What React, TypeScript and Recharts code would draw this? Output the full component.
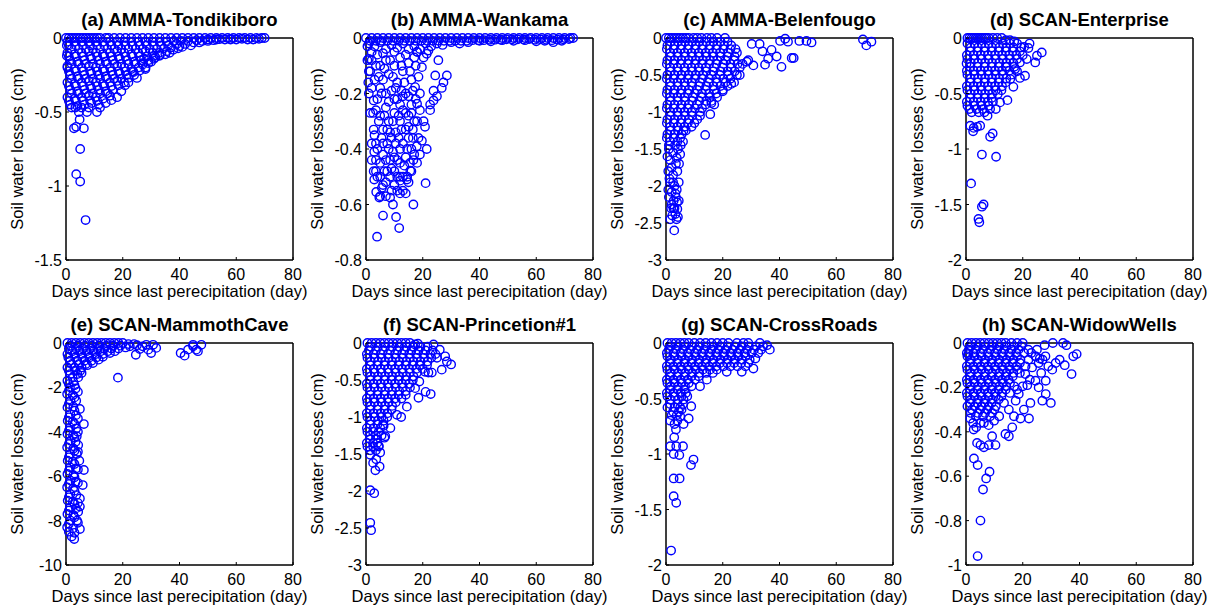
import React from "react";
import { ScatterChart, Scatter, XAxis, YAxis, ReferenceArea } from "recharts";

// days since last precipitation (x) vs soil water loss in cm (y)
type Pt = [number, number];

const dayTicks = [0, 20, 40, 60, 80];

const tondikiboro: Pt[] = [
  [0, 0], [1, 0], [2, 0], [3, 0], [4, 0], [5, 0], [6, 0], [7, 0], [8, 0], [9, 0], [10, 0], [11, 0], [12, 0], [14, 0], [15, 0], [17, 0], [19, 0], [21, 0], [23, 0], [25, 0], [27, 0], [29, 0], [31, 0], [33, 0], [35, 0], [37, 0], [39, 0], [41, 0], [43, 0], [45, 0], [47, 0], [49, 0], [51, 0], [53, 0], [55, 0], [57, 0], [59, 0], [61, 0], [63, 0], [64, -0.01], [65, 0], [66, -0.01], [67, 0], [68, -0.005], [69, 0], [70, 0],
  [0.5, -0.025], [3, -0.025], [5.5, -0.025], [8, -0.025], [10.5, -0.025], [13, -0.025], [15.5, -0.025], [18, -0.025], [20.5, -0.025], [23, -0.025], [25.5, -0.025], [28, -0.025], [30.5, -0.025], [33, -0.025], [35.5, -0.025], [38, -0.02], [40.5, -0.02], [43, -0.02], [46, -0.015], [50, -0.01], [54, -0.008], [58, -0.006], [62, -0.005],
  [1, -0.05], [3.5, -0.05], [6, -0.05], [8.5, -0.05], [11, -0.05], [13.5, -0.05], [16, -0.05], [18.5, -0.05], [21, -0.05], [23.5, -0.05], [26, -0.05], [28.5, -0.05], [31, -0.05], [33.5, -0.05], [36, -0.05], [39, -0.04], [42, -0.04], [45, -0.03], [48, -0.02], [52, -0.015], [56, -0.01], [60, -0.01],
  [2, -0.075], [4.5, -0.075], [7, -0.075], [9.5, -0.075], [12, -0.075], [14.5, -0.075], [17, -0.075], [19.5, -0.075], [22, -0.075], [24.5, -0.075], [27, -0.075], [29.5, -0.075], [32, -0.075], [34.5, -0.07], [37, -0.065], [40, -0.055],
  [0.5, -0.1], [3, -0.11], [5.5, -0.1], [8, -0.09], [10.5, -0.1], [13, -0.11], [15.5, -0.1], [18, -0.09], [20.5, -0.1], [23, -0.11], [25.5, -0.1], [28, -0.09], [30.5, -0.1], [33, -0.1], [35.5, -0.09],
  [1, -0.125], [3.5, -0.125], [6, -0.125], [8.5, -0.125], [11, -0.125], [13.5, -0.125], [16, -0.125], [18.5, -0.125], [21, -0.125], [23.5, -0.125], [26, -0.125], [28.5, -0.125], [31, -0.12], [33, -0.115],
  [1.5, -0.15], [4, -0.16], [6.5, -0.15], [9, -0.14], [11.5, -0.15], [14, -0.16], [16.5, -0.15], [19, -0.14], [21.5, -0.15], [24, -0.16], [26.5, -0.15], [29, -0.15], [31, -0.14],
  [2, -0.175], [4.5, -0.175], [7, -0.175], [9.5, -0.175], [12, -0.175], [14.5, -0.175], [17, -0.175], [19.5, -0.175], [22, -0.175], [24.5, -0.175], [27, -0.17], [29, -0.17],
  [0.5, -0.2], [3, -0.21], [5.5, -0.2], [8, -0.19], [10.5, -0.2], [13, -0.21], [15.5, -0.2], [18, -0.19], [20.5, -0.2], [23, -0.21], [25.5, -0.2], [28, -0.2],
  [1, -0.225], [3.5, -0.225], [6, -0.225], [8.5, -0.225], [11, -0.225], [13.5, -0.225], [16, -0.225], [18.5, -0.225], [21, -0.225], [23.5, -0.225], [26, -0.22],
  [1.5, -0.25], [4, -0.26], [6.5, -0.25], [9, -0.24], [11.5, -0.25], [14, -0.26], [16.5, -0.25], [19, -0.24], [21.5, -0.25], [24, -0.25],
  [2, -0.275], [4.5, -0.275], [7, -0.275], [9.5, -0.275], [12, -0.275], [14.5, -0.275], [17, -0.275], [19.5, -0.275], [22, -0.27],
  [0.5, -0.3], [3, -0.31], [5.5, -0.3], [8, -0.29], [10.5, -0.3], [13, -0.31], [15.5, -0.3], [18, -0.29], [20.5, -0.3],
  [1, -0.325], [3.5, -0.325], [6, -0.325], [8.5, -0.325], [11, -0.325], [13.5, -0.325], [16, -0.325], [18.5, -0.32],
  [1.5, -0.35], [4, -0.36], [6.5, -0.35], [9, -0.34], [11.5, -0.35], [14, -0.36], [16.5, -0.35],
  [2, -0.375], [4.5, -0.375], [7, -0.375], [9.5, -0.375], [12, -0.375], [14.5, -0.375],
  [0.5, -0.4], [3, -0.41], [5.5, -0.4], [8, -0.39], [10.5, -0.4], [13, -0.41], [15.5, -0.39],
  [1, -0.425], [3.5, -0.425], [6, -0.425], [8.5, -0.425], [11, -0.425],
  [1.5, -0.45], [4, -0.46], [6.5, -0.45], [9, -0.44], [11.5, -0.45],
  [2, -0.47], [5.5, -0.47], [8, -0.47],
  [0.3, -0.05], [0.3, -0.12], [0.5, -0.19], [3.3, -0.47], [4.5, -0.5], [4.8, -0.55], [2.8, -0.61], [3.6, -0.6], [6.3, -0.61], [5, -0.75], [3.6, -0.92], [5, -0.97], [6.9, -1.23],
  [7.4, -0.5], [10.9, -0.5], [12, -0.47], [14, -0.44], [16, -0.42], [18, -0.4], [19.5, -0.36], [20.8, -0.32], [22, -0.3], [23.8, -0.23], [25, -0.27], [27, -0.18], [27.5, -0.14], [28, -0.21], [30, -0.16], [31.5, -0.13], [33, -0.12], [35, -0.11], [36.5, -0.1], [37.8, -0.08], [39.5, -0.07], [41, -0.06], [44, -0.05], [47, -0.03], [50, -0.02], [53, -0.01], [58, -0.01],
];

const wankama: Pt[] = [
  [0, 0], [2, 0], [4, 0], [6, 0], [8, 0], [10, 0], [12, 0], [14, 0], [16, 0], [18, 0], [20, 0], [22, 0], [24, 0], [26, 0], [28, 0], [30, 0], [32, 0], [34, 0], [36, 0], [38, 0], [40, 0], [42, 0], [44, 0], [46, 0], [48, 0], [50, 0], [52, 0], [54, 0], [56, 0], [58, 0], [60, 0], [62, 0], [64, 0], [66, 0], [68, 0], [70, 0], [72, 0], [73, 0],
  [1.5, -0.01], [3.5, -0.01], [5.5, -0.01], [7.5, -0.01], [9.5, -0.01], [11.5, -0.01], [13.5, -0.01], [15.5, -0.01], [17.5, -0.01], [19.5, -0.01], [21.5, -0.01], [23.5, -0.01], [25.5, -0.01], [27.5, -0.01], [29.5, -0.01], [31.5, -0.01], [33.5, -0.01], [35.5, -0.01], [37.5, -0.008], [39.5, -0.008], [41.5, -0.008], [43.5, -0.006], [45.5, -0.006], [47.5, -0.006], [49.5, -0.005], [51.5, -0.005], [53.5, -0.005], [55.5, -0.005], [57.5, -0.004], [59.5, -0.006], [61.5, -0.005], [63.5, -0.006], [65.5, -0.008], [67.5, -0.006], [69.5, -0.005], [71.5, -0.004],
  [1, -0.02], [3, -0.03], [5, -0.015], [7, -0.04], [9, -0.025], [11, -0.035], [13, -0.02], [15, -0.04], [17, -0.03], [19, -0.04], [21, -0.02], [23, -0.03], [25, -0.02], [27, -0.025], [30, -0.015], [33, -0.02], [36, -0.015], [40, -0.01], [44, -0.012], [48, -0.008], [52, -0.01], [56, -0.008], [60, -0.012], [63, -0.01], [66, -0.015], [69, -0.01],
  [2, -0.05], [6, -0.055], [10, -0.05], [14, -0.06], [18, -0.05], [22, -0.045],
  [0.5, -0.03], [0.5, -0.08], [1, -0.12], [0.8, -0.16], [1, -0.2], [1.5, -0.27], [2, -0.38], [2, -0.44],
  [1, -0.075], [1.5, -0.12], [2, -0.18], [2.7, -0.225], [2.5, -0.27], [2.7, -0.33], [2.9, -0.41], [2.7, -0.48], [2.9, -0.51], [3.6, -0.555], [4.7, -0.575], [5.6, -0.54], [6, -0.64], [3.9, -0.716],
  [8.5, -0.575], [10.6, -0.645], [11.7, -0.685], [16.7, -0.6], [21, -0.523], [12, -0.514], [14.4, -0.51], [15.6, -0.478], [16.7, -0.44], [17.9, -0.39], [19, -0.42], [19.7, -0.37], [21.4, -0.4], [20.8, -0.32], [20.3, -0.3], [19, -0.26], [18, -0.237], [19, -0.2], [17.3, -0.177], [18.5, -0.14], [19.7, -0.105], [20.3, -0.07], [21.4, -0.057],
  [25.5, -0.08], [24.4, -0.135], [28.5, -0.135], [27.3, -0.16], [26.7, -0.18], [23.8, -0.19], [25, -0.21], [23.8, -0.225], [22.6, -0.24], [22.6, -0.26],
  [4, -0.06], [5, -0.1], [6, -0.15], [7, -0.08], [8, -0.13], [9, -0.19], [10, -0.1], [11, -0.16], [12, -0.07], [13, -0.12], [14, -0.2], [15, -0.09], [16, -0.15], [17, -0.07],
  [4, -0.22], [5, -0.28], [6, -0.33], [7, -0.25], [8, -0.3], [9, -0.36], [10, -0.27], [11, -0.22], [12, -0.3], [13, -0.26], [14, -0.33], [15, -0.28], [16, -0.24], [17, -0.3],
  [4, -0.4], [5, -0.45], [6, -0.38], [7, -0.44], [8, -0.4], [9, -0.47], [10, -0.43], [11, -0.5], [12, -0.45], [13, -0.38], [14, -0.43], [15, -0.36], [16, -0.4],
  [4, -0.5], [7, -0.52], [9, -0.55], [13, -0.55], [10, -0.53],
  [3, -0.35], [3.5, -0.44], [5.5, -0.2], [6.5, -0.48], [8.5, -0.34], [11.5, -0.36], [12.5, -0.19], [14.5, -0.5], [15.5, -0.45],
  [2, -0.08], [3.5, -0.1], [4.5, -0.14], [6.5, -0.11], [8.5, -0.08], [9.5, -0.14], [10.5, -0.18], [12.5, -0.1], [13.5, -0.16], [15.5, -0.12], [16.5, -0.19], [17.5, -0.1], [18, -0.05],
  [3, -0.15], [5, -0.18], [7, -0.2], [8, -0.23], [10, -0.22], [12, -0.24], [13, -0.21], [15, -0.21], [16, -0.27], [17.5, -0.22],
  [3.5, -0.26], [4.5, -0.3], [6.5, -0.28], [7.5, -0.33], [9.5, -0.3], [10.5, -0.34], [11.5, -0.28], [12.5, -0.33], [14, -0.27], [15, -0.32], [16.5, -0.33], [18, -0.3],
  [3.5, -0.38], [5.5, -0.36], [6, -0.42], [7.5, -0.38], [8.5, -0.44], [9.5, -0.41], [10.5, -0.38], [11, -0.44], [12, -0.4], [13.5, -0.46], [14.5, -0.4], [16.5, -0.36], [17, -0.42], [18.5, -0.36],
  [3.5, -0.48], [5, -0.5], [6, -0.53], [7.5, -0.48], [8.5, -0.5], [10, -0.48], [11, -0.55], [12, -0.5], [13, -0.5], [15, -0.52], [16, -0.48], [18, -0.45],
  [5, -0.57], [7, -0.57], [9.5, -0.6], [12, -0.56], [14, -0.56],
];

const belenfougo: Pt[] = [
  [0, 0], [1, 0], [2, 0], [3, 0], [4, 0], [5, 0], [6, 0], [7, 0], [8, 0], [9.7, 0], [11, 0], [12.5, 0], [14.4, 0], [16, 0], [18, 0], [20.8, 0],
  [1.7, -0.05], [4.2, -0.05], [6.7, -0.05], [9.2, -0.05], [11.7, -0.05], [14.2, -0.05], [16.7, -0.05], [19.2, -0.05], [21.7, -0.05],
  [0.5, -0.1], [3, -0.1], [5.5, -0.1], [8, -0.1], [10.5, -0.1], [13, -0.1], [15.5, -0.1], [18, -0.1], [20.5, -0.1], [23, -0.1],
  [0.3, -0.15], [2.7, -0.15], [5.2, -0.15], [7.7, -0.15], [10.2, -0.15], [12.7, -0.15], [15.2, -0.15], [17.7, -0.15], [20.2, -0.15], [22.7, -0.15], [24.5, -0.15],
  [1.5, -0.2], [4, -0.2], [6.5, -0.2], [9, -0.2], [11.5, -0.2], [14, -0.2], [16.5, -0.2], [19, -0.2], [22, -0.2], [25, -0.2],
  [1.7, -0.25], [4.2, -0.25], [6.7, -0.25], [9.2, -0.25], [11.7, -0.25], [14.2, -0.25], [16.7, -0.25], [19.2, -0.25], [21.7, -0.25], [24.2, -0.25],
  [0.5, -0.3], [3, -0.3], [5.5, -0.3], [8, -0.3], [10.5, -0.3], [13, -0.3], [15.5, -0.3], [18, -0.3], [21, -0.3], [24, -0.3],
  [0.3, -0.35], [2.7, -0.35], [5.2, -0.35], [7.7, -0.35], [10.2, -0.35], [12.7, -0.35], [15.2, -0.35], [17.7, -0.35], [20.2, -0.35], [22.7, -0.35], [25.2, -0.35],
  [1.5, -0.4], [4, -0.4], [6.5, -0.4], [9, -0.4], [11.5, -0.4], [14, -0.4], [17, -0.4], [20, -0.4], [23, -0.4], [26, -0.4],
  [1.7, -0.45], [4.2, -0.45], [6.7, -0.45], [9.2, -0.45], [11.7, -0.45], [14.2, -0.45], [16.7, -0.45], [19.2, -0.45], [21.7, -0.45], [24.2, -0.45],
  [0.5, -0.5], [3, -0.5], [5.5, -0.5], [8, -0.5], [10.5, -0.5], [13, -0.5], [16, -0.5], [19, -0.5], [22, -0.5], [25, -0.5],
  [0.3, -0.55], [2.7, -0.55], [5.2, -0.55], [7.7, -0.55], [10.2, -0.55], [12.7, -0.55], [15.2, -0.55], [17.7, -0.55], [20.2, -0.55], [22.7, -0.55],
  [1.5, -0.6], [4, -0.6], [6.5, -0.6], [9, -0.6], [12, -0.6], [15, -0.6], [18, -0.6], [21, -0.6], [24, -0.6],
  [1.7, -0.65], [4.2, -0.65], [6.7, -0.65], [9.2, -0.65], [11.7, -0.65], [14.2, -0.65], [16.7, -0.65], [19.2, -0.65], [21.7, -0.65],
  [0.5, -0.7], [3, -0.7], [5.5, -0.7], [8, -0.7], [11, -0.7], [14, -0.7], [17, -0.7], [20, -0.7],
  [0.3, -0.75], [2.7, -0.75], [5.2, -0.75], [7.7, -0.75], [10.2, -0.75], [12.7, -0.75], [15.2, -0.75], [17.7, -0.75],
  [1.5, -0.8], [4, -0.8], [6.5, -0.8], [9.5, -0.8], [12.5, -0.8], [15.5, -0.8], [18, -0.8],
  [1.7, -0.85], [4.2, -0.85], [6.7, -0.85], [9.2, -0.85], [11.7, -0.85], [14.2, -0.85], [16, -0.85],
  [0.5, -0.9], [3, -0.9], [5.5, -0.9], [8, -0.9], [11, -0.9], [14, -0.9], [17, -0.9],
  [0.3, -0.95], [2.7, -0.95], [5.2, -0.95], [7.7, -0.95], [10.2, -0.95], [12.7, -0.95],
  [1.5, -1.0], [4, -1.0], [6.5, -1.0], [9, -1.0], [12, -1.0],
  [1.7, -1.05], [4.2, -1.05], [6.7, -1.05], [9.2, -1.05],
  [0.5, -1.1], [3, -1.1], [5.5, -1.1], [8, -1.1], [11, -1.1],
  [0.3, -1.15], [2.7, -1.15], [5.2, -1.15], [7.7, -1.15],
  [1.5, -1.2], [4, -1.2], [6.5, -1.2], [9, -1.2],
  [1.7, -1.25], [4.2, -1.25], [6.2, -1.25],
  [0.5, -1.3], [3, -1.3], [5.5, -1.3],
  [0.3, -1.35], [2.7, -1.35], [5, -1.35],
  [1.5, -1.4], [4, -1.4], [6, -1.4],
  [1, -1.45], [3.2, -1.45], [5.2, -1.45],
  [1, -1.5], [2.5, -1.55], [4.2, -1.5], [5, -1.57], [1.5, -1.65], [3.5, -1.7], [0.8, -1.8], [2.5, -1.85], [4, -1.8], [1.5, -1.95], [3, -2.0], [4.5, -1.95], [2, -2.08], [3.3, -2.1], [1, -2.15], [2.7, -2.2], [3.9, -2.22], [1.8, -2.3], [3, -2.3], [4, -2.31], [2.2, -2.4], [3.3, -2.38], [4.2, -2.42], [2.9, -2.6],
  [0.5, -1.6], [2, -1.75], [3.8, -1.62], [1.2, -1.9], [2.5, -1.95], [3.8, -2.05], [0.8, -2.05], [2, -2.25], [3.5, -2.15], [2.6, -2.3], [1.5, -2.45], [3.7, -2.45], [4.5, -2.2], [4.6, -1.7],
  [15.6, -1.03], [13.8, -1.31], [12, -1.05], [10, -1.15], [7, -1.25], [16, -0.88], [20, -0.72], [23, -0.62], [26, -0.5], [27, -0.35], [29, -0.3],
  [30.2, -0.08], [33, -0.08], [34, -0.18], [37.2, -0.16], [36, -0.28], [39, -0.25], [34.9, -0.36], [40.7, -0.39], [30.8, -0.37], [28.5, -0.32], [40.2, -0.04], [42, -0.01], [43, -0.05], [44.3, -0.27], [45, -0.27], [47, -0.04], [49.5, -0.04], [51.3, -0.06], [69.4, -0.02], [70.6, -0.1], [72.4, -0.05],
];

const enterprise: Pt[] = [
  [0.5, 0], [1.2, 0], [2, 0], [2.7, 0], [3.5, 0], [4.2, 0], [5, 0], [5.7, 0], [6.5, 0], [7.2, 0], [8, 0], [9.5, 0], [11, 0], [12.6, 0], [14, -0.02], [15.5, -0.02], [17, -0.03],
  [0.5, -0.05], [3, -0.05], [5.5, -0.05], [8, -0.05], [10.5, -0.05], [13, -0.05], [15.5, -0.05], [18, -0.05],
  [1.7, -0.085], [4.2, -0.085], [6.7, -0.085], [9.2, -0.085], [11.7, -0.085], [14.2, -0.085], [16.7, -0.085], [19.5, -0.085], [22, -0.09],
  [1.5, -0.12], [4, -0.12], [6.5, -0.12], [9, -0.12], [11.5, -0.12], [14, -0.12], [16.5, -0.12], [19, -0.12],
  [0.3, -0.155], [2.7, -0.155], [5.2, -0.155], [7.7, -0.155], [10.2, -0.155], [12.7, -0.155], [15.2, -0.155], [17.7, -0.155], [20, -0.155],
  [0.5, -0.19], [3, -0.19], [5.5, -0.19], [8, -0.19], [10.5, -0.19], [13, -0.19], [15.5, -0.19], [18, -0.19],
  [1.7, -0.225], [4.2, -0.225], [6.7, -0.225], [9.2, -0.225], [11.7, -0.225], [14.2, -0.225], [16.7, -0.225],
  [1.5, -0.26], [4, -0.26], [6.5, -0.26], [9, -0.26], [11.5, -0.26], [14, -0.26], [17, -0.26],
  [0.3, -0.295], [2.7, -0.295], [5.2, -0.295], [7.7, -0.295], [10.2, -0.295], [12.7, -0.295], [15.2, -0.295], [18, -0.3],
  [0.5, -0.33], [3, -0.33], [5.5, -0.33], [8, -0.33], [10.5, -0.33], [13, -0.33], [16, -0.33],
  [1.7, -0.365], [4.2, -0.365], [6.7, -0.365], [9.2, -0.365], [11.7, -0.365], [14.2, -0.365],
  [1.5, -0.4], [4, -0.4], [6.5, -0.4], [9, -0.4], [11.5, -0.4], [14, -0.4],
  [0.3, -0.435], [2.7, -0.435], [5.2, -0.435], [7.7, -0.435], [10.2, -0.435], [12.7, -0.435],
  [0.5, -0.47], [3, -0.47], [5.5, -0.47], [8, -0.47], [10.5, -0.47], [12.5, -0.47],
  [1.7, -0.505], [4.2, -0.505], [6.7, -0.505], [9.2, -0.505], [11.2, -0.505],
  [1.5, -0.54], [4, -0.54], [6.5, -0.54], [9, -0.54],
  [0.3, -0.575], [2.7, -0.575], [5.2, -0.575], [7.7, -0.575], [9.5, -0.575],
  [0.5, -0.61], [3, -0.61], [5.5, -0.61], [8, -0.61],
  [1.2, -0.64], [3.7, -0.64], [6, -0.64], [8.5, -0.64],
  [2, -0.67], [4.5, -0.67], [6.5, -0.67],
  [1.8, -1.31], [4.4, -1.63], [4.7, -1.66], [5.6, -1.52], [6.2, -1.5], [5.6, -1.05], [10.6, -1.07], [8.5, -0.89], [9.4, -0.86],
  [1.5, -0.79], [2.7, -0.81], [3.9, -0.8], [5, -0.79], [2.5, -0.84], [7.6, -0.7], [14.6, -0.56], [12, -0.58], [10.5, -0.64],
  [26.7, -0.13], [25, -0.16], [24.4, -0.22], [22.4, -0.05], [20.5, -0.08], [20.8, -0.34], [19, -0.36], [16.7, -0.44], [17.3, -0.28], [19, -0.22], [21.4, -0.19], [15.6, -0.37], [14.4, -0.26], [0.2, -0.23],
];

const mammothCave: Pt[] = [
  [0.5, 0], [2, 0], [3.5, 0], [5, 0], [6.5, 0], [8, 0], [9.5, 0], [11, 0], [12.5, 0], [14, 0], [15.5, 0], [17, 0], [18.5, 0], [20, 0], [22, -0.05], [24, -0.05],
  [1.7, -0.12], [4.2, -0.12], [6.7, -0.12], [9.2, -0.12], [11.7, -0.12], [14.2, -0.12], [16.7, -0.12], [19.2, -0.12], [22.5, -0.15], [25, -0.1],
  [1, -0.25], [3.5, -0.25], [6, -0.25], [8.5, -0.25], [11, -0.25], [13.5, -0.25], [16, -0.25], [18.5, -0.25], [21, -0.2],
  [2.2, -0.37], [4.7, -0.37], [7.2, -0.37], [9.7, -0.37], [12.2, -0.37], [14.7, -0.37], [17.2, -0.37],
  [0.5, -0.5], [3, -0.5], [5.5, -0.5], [8, -0.5], [10.5, -0.5], [13, -0.5], [15.5, -0.45],
  [0.8, -0.65], [3.2, -0.65], [5.7, -0.65], [8.2, -0.65], [10.7, -0.65], [13, -0.62],
  [1.5, -0.8], [4, -0.8], [6.5, -0.8], [9, -0.8], [11.5, -0.75],
  [2, -0.95], [4.5, -0.95], [7, -0.95], [9.5, -0.9],
  [0.5, -1.1], [3, -1.1], [5.5, -1.1], [7.5, -1.0],
  [1, -1.25], [3.2, -1.25], [5, -1.25],
  [1.5, -1.4], [4, -1.4], [5.5, -1.35],
  [2.3, -1.55], [4.3, -1.55],
  [0.5, -1.7], [2.6, -1.75], [1.4, -2.0], [3.4, -2.05], [0.4, -2.3], [2.4, -2.35], [1.6, -2.6], [3.6, -2.6], [0.5, -2.9], [2.6, -2.87], [4.9, -2.97],
  [1.5, -3.2], [3.5, -3.25], [0.6, -3.5], [2.4, -3.55], [1.4, -3.8], [3.6, -3.85], [0.5, -4.1], [2.5, -4.15], [3.8, -4.2], [1.6, -4.4], [4.3, -4.6], [3.4, -4.45],
  [0.4, -4.7], [2.6, -4.75], [1.5, -5.0], [3.8, -5.0], [0.6, -5.3], [2.4, -5.35], [4.7, -5.3], [1.4, -5.6], [3.5, -5.65], [0.5, -5.9], [2.6, -5.95],
  [1.6, -6.2], [3.4, -6.25], [0.4, -6.5], [2.5, -6.55], [5.9, -6.4], [1.5, -6.8], [3.6, -6.85], [0.6, -7.1], [2.4, -7.15], [4.9, -7.0],
  [1.4, -7.4], [3.5, -7.45], [4.9, -7.37], [0.5, -7.7], [2.6, -7.75], [4.3, -7.6], [1.6, -8.0], [3.9, -8.0], [0.4, -8.3], [2.5, -8.35], [4.9, -8.38], [2.9, -8.83], [2, -8.72], [1, -8.5],
  [1, -1.85], [3, -1.9], [4.2, -2.2], [1, -2.15], [3, -2.45], [1, -2.75], [3, -3.05], [4.2, -3.4], [1, -3.35], [3, -3.65], [1, -3.95], [4.2, -4.0], [3, -4.25], [1, -4.55], [3, -4.85], [4.2, -4.9],
  [1, -5.15], [3, -5.45], [4.2, -5.7], [1, -5.75], [3, -6.05], [1, -6.35], [4.2, -6.3], [3, -6.65], [1, -6.95], [3, -7.25], [4.2, -7.2], [1, -7.55], [3, -7.85], [4.2, -8.1], [1, -8.15], [3, -8.55],
  [6.3, -3.65], [6.3, -5.72], [18.3, -1.56],
  [24.6, -0.53], [26, -0.27], [28.3, -0.08], [30.7, -0.08], [31.8, -0.22], [30, -0.45], [27, -0.15], [29, -0.3],
  [40.4, -0.45], [41.8, -0.57], [43, -0.3], [44.8, -0.08], [45.9, -0.3], [46.5, -0.37], [47.7, -0.08], [44.8, -0.15],
];

const princetion: Pt[] = [
  [0.5, 0], [2, 0], [3.5, 0], [5, 0], [6.5, 0], [8, 0], [9.5, 0], [11, 0], [12.5, 0], [14, 0], [15.5, 0], [18.3, -0.01],
  [1.7, -0.05], [4.2, -0.05], [6.7, -0.05], [9.2, -0.05], [11.7, -0.05], [14.2, -0.05], [16.7, -0.05], [19.2, -0.05], [21.7, -0.05],
  [1, -0.1], [3.5, -0.1], [6, -0.1], [8.5, -0.1], [11, -0.1], [13.5, -0.1], [16, -0.1], [18.5, -0.1], [21, -0.1], [23.5, -0.1],
  [0.3, -0.15], [2.7, -0.15], [5.2, -0.15], [7.7, -0.15], [10.2, -0.15], [12.7, -0.15], [15.2, -0.15], [17.7, -0.15], [20.2, -0.15], [22.7, -0.15], [24.5, -0.15],
  [0.5, -0.2], [3, -0.2], [5.5, -0.2], [8, -0.2], [10.5, -0.2], [13, -0.2], [15.5, -0.2], [18, -0.2], [20.5, -0.2], [23, -0.2],
  [1.7, -0.25], [4.2, -0.25], [6.7, -0.25], [9.2, -0.25], [11.7, -0.25], [14.2, -0.25], [16.7, -0.25], [19.2, -0.25], [21.7, -0.25],
  [1.5, -0.3], [4, -0.3], [6.5, -0.3], [9, -0.3], [11.5, -0.3], [14, -0.3], [16.5, -0.3], [19, -0.3], [21.5, -0.3],
  [0.3, -0.35], [2.7, -0.35], [5.2, -0.35], [7.7, -0.35], [10.2, -0.35], [12.7, -0.35], [15.2, -0.35], [17.7, -0.35], [20, -0.35],
  [0.5, -0.4], [3, -0.4], [5.5, -0.4], [8, -0.4], [10.5, -0.4], [13, -0.4], [15.5, -0.4], [18, -0.4],
  [1.7, -0.45], [4.2, -0.45], [6.7, -0.45], [9.2, -0.45], [11.7, -0.45], [14.2, -0.45], [16.7, -0.45],
  [1.5, -0.5], [4, -0.5], [6.5, -0.5], [9, -0.5], [11.5, -0.5], [14, -0.5], [16.5, -0.5],
  [0.3, -0.55], [2.7, -0.55], [5.2, -0.55], [7.7, -0.55], [10.2, -0.55], [12.7, -0.55], [15.2, -0.55],
  [0.5, -0.6], [3, -0.6], [5.5, -0.6], [8, -0.6], [10.5, -0.6], [13, -0.6], [15.5, -0.6],
  [1.7, -0.65], [4.2, -0.65], [6.7, -0.65], [9.2, -0.65], [11.7, -0.65], [14, -0.65],
  [1.5, -0.7], [4, -0.7], [6.5, -0.7], [9, -0.7], [11.5, -0.7], [14, -0.7],
  [0.3, -0.75], [2.7, -0.75], [5.2, -0.75], [7.7, -0.75], [10.2, -0.75], [12.5, -0.75],
  [0.5, -0.8], [3, -0.8], [5.5, -0.8], [8, -0.8], [10.5, -0.8],
  [1.7, -0.85], [4.2, -0.85], [6.7, -0.85], [9.2, -0.85],
  [1.5, -0.9], [4, -0.9], [6.5, -0.9], [9, -0.9],
  [0.3, -0.95], [2.7, -0.95], [5.2, -0.95], [7.5, -0.95],
  [0.5, -1.0], [3, -1.0], [5.5, -1.0], [7.5, -1.0],
  [1.7, -1.05], [4.2, -1.05], [6.2, -1.05],
  [1.5, -1.1], [4, -1.1], [6, -1.1],
  [0.3, -1.15], [2.7, -1.15], [5, -1.15],
  [0.5, -1.2], [2.5, -1.2], [4.5, -1.2],
  [1.5, -1.25], [3.5, -1.25], [5.5, -1.25],
  [1.5, -1.3], [3.5, -1.3], [6.5, -1.28],
  [0.3, -1.35], [2.5, -1.35], [4, -1.35],
  [0.5, -1.4], [2.5, -1.4], [4.5, -1.4],
  [1.5, -1.45], [3.5, -1.45],
  [1.5, -1.99], [2.9, -2.03], [1.5, -2.43], [1.8, -2.53], [3.3, -1.72], [4.8, -1.67], [3.6, -1.57], [1.5, -1.51], [2.5, -1.62],
  [30, -0.29], [28.5, -0.25], [26.7, -0.36], [27.9, -0.18], [26, -0.09], [23.8, -0.02], [25, -0.2], [23.2, -0.4], [22, -0.4], [20.8, -0.39], [22.8, -0.69], [21, -0.66], [18.5, -0.74], [17.3, -0.61], [18.8, -0.52], [19, -0.3], [17.3, -0.02],
  [14.4, -0.86], [12.4, -1.0], [10.9, -0.97], [8.6, -1.15], [6.8, -1.26], [6.2, -1.12], [4.5, -1.39], [5, -1.48],
];

const crossRoads: Pt[] = [
  [0.5, 0], [2, 0], [3.5, 0], [5, 0], [6.5, 0], [8, 0], [10, 0], [12, 0], [14, 0], [16, 0], [18, 0], [20, 0], [22, 0], [25, 0], [27.3, 0], [29, 0], [33.1, 0], [35.6, -0.02],
  [1.7, -0.03], [4.2, -0.03], [6.7, -0.03], [9.2, -0.03], [11.7, -0.03], [14.2, -0.03], [16.7, -0.03], [19.2, -0.03], [21.7, -0.03], [24.2, -0.03], [26.7, -0.03], [29.2, -0.03], [31.7, -0.03], [34.2, -0.03],
  [1, -0.06], [3.5, -0.06], [6, -0.06], [8.5, -0.06], [11, -0.06], [13.5, -0.06], [16, -0.06], [18.5, -0.06], [21, -0.06], [23.5, -0.06], [26, -0.06], [28.5, -0.06], [31, -0.06], [33.5, -0.06], [36.6, -0.06],
  [0.3, -0.09], [2.7, -0.09], [5.2, -0.09], [7.7, -0.09], [10.2, -0.09], [12.7, -0.09], [15.2, -0.09], [17.7, -0.09], [20.2, -0.09], [22.7, -0.09], [25.2, -0.09], [27.7, -0.09], [30.2, -0.09], [32.5, -0.09],
  [0.5, -0.12], [3, -0.12], [5.5, -0.12], [8, -0.12], [10.5, -0.12], [13, -0.12], [15.5, -0.12], [18, -0.12], [20.5, -0.12], [23, -0.12], [25.5, -0.12], [28, -0.12], [31.5, -0.14],
  [1.7, -0.15], [4.2, -0.15], [6.7, -0.15], [9.2, -0.15], [11.7, -0.15], [14.2, -0.15], [16.7, -0.15], [19.2, -0.15], [21.7, -0.15], [24.2, -0.15], [26.7, -0.15], [29.5, -0.15],
  [1.5, -0.18], [4, -0.18], [6.5, -0.18], [9, -0.18], [11.5, -0.18], [14, -0.18], [16.5, -0.18], [19, -0.18], [21.5, -0.18], [24, -0.18], [26.5, -0.18], [29, -0.18],
  [0.3, -0.21], [2.7, -0.21], [5.2, -0.21], [7.7, -0.21], [10.2, -0.21], [12.7, -0.21], [15.2, -0.21], [17.7, -0.21], [20.2, -0.21], [22.7, -0.21], [25.2, -0.21], [28, -0.21],
  [0.5, -0.24], [3, -0.24], [5.5, -0.24], [8, -0.24], [10.5, -0.24], [13, -0.24], [15.5, -0.24], [17.9, -0.24], [21.4, -0.26], [26.7, -0.26], [30.8, -0.23],
  [1.7, -0.27], [4.2, -0.27], [6.7, -0.27], [9.2, -0.27], [11.7, -0.27], [14.2, -0.27], [16.5, -0.27],
  [1.5, -0.3], [4, -0.3], [6.5, -0.3], [9, -0.3], [11.5, -0.3], [14.4, -0.33],
  [0.3, -0.33], [2.7, -0.33], [5.2, -0.33], [7.7, -0.33], [10.2, -0.33],
  [0.5, -0.36], [3, -0.36], [5.5, -0.36], [8, -0.36], [12, -0.39],
  [1.7, -0.39], [4.2, -0.39], [6.7, -0.39], [9, -0.39],
  [1.5, -0.42], [4, -0.42], [6.5, -0.42],
  [0.3, -0.45], [2.7, -0.45], [5.2, -0.45], [7, -0.45],
  [0.5, -0.48], [3, -0.48], [5.5, -0.48], [7.5, -0.48],
  [1.7, -0.51], [4.2, -0.51], [6.2, -0.51],
  [1.5, -0.55], [4, -0.55], [6, -0.55],
  [0.5, -0.58], [3, -0.58], [5, -0.58],
  [2.5, -0.62], [4.5, -0.62], [5.5, -0.6],
  [2, -0.65], [3.8, -0.65],
  [1.8, -1.87], [2.7, -1.38], [3.6, -1.44], [2.7, -1.22], [4.8, -1.22], [9.7, -1.05], [8.8, -1.1], [4.7, -1.01], [2.7, -1.0], [6, -0.93], [1.5, -0.93], [3.6, -0.93], [2.9, -0.85],
  [8, -0.68], [8.9, -0.57], [6.2, -0.73], [3, -0.73], [4, -0.7], [5, -0.66], [3.5, -0.78], [1.5, -0.7],
];

const widowWells: Pt[] = [
  [0.5, 0], [2, 0], [3.5, 0], [5, 0], [6.5, 0], [8, 0], [9.5, 0], [11, 0], [12.5, 0], [14, 0], [16, 0], [18, 0], [20, 0], [27.7, -0.01], [30.6, 0], [34.2, 0], [35.4, -0.01],
  [1.7, -0.015], [4.2, -0.015], [6.7, -0.015], [9.2, -0.015], [11.7, -0.015], [14.2, -0.015], [17, -0.015], [19.5, -0.015],
  [1, -0.03], [3.5, -0.03], [6, -0.03], [8.5, -0.03], [11, -0.03], [13.5, -0.03], [16, -0.03], [18.5, -0.03], [22, -0.03], [25, -0.03],
  [0.3, -0.045], [2.7, -0.045], [5.2, -0.045], [7.7, -0.045], [10.2, -0.045], [12.7, -0.045], [15.2, -0.045], [17.7, -0.045], [20.5, -0.045], [23, -0.045],
  [0.5, -0.06], [3, -0.06], [5.5, -0.06], [8, -0.06], [10.5, -0.06], [13, -0.06], [15.5, -0.06], [18, -0.06], [24.5, -0.06], [26, -0.07], [28, -0.06], [37.8, -0.06], [39, -0.05],
  [1.7, -0.075], [4.2, -0.075], [6.7, -0.075], [9.2, -0.075], [11.7, -0.075], [14.2, -0.075], [16.7, -0.075], [19.2, -0.075], [22, -0.075], [27, -0.075], [33, -0.075],
  [1.5, -0.09], [4, -0.09], [6.5, -0.09], [9, -0.09], [11.5, -0.09], [14, -0.09], [16.5, -0.09], [19, -0.09], [25.6, -0.09], [31.6, -0.09], [34.8, -0.1],
  [0.3, -0.105], [2.7, -0.105], [5.2, -0.105], [7.7, -0.105], [10.2, -0.105], [12.7, -0.105], [15.2, -0.105], [17.7, -0.105], [21, -0.105], [29, -0.105],
  [0.5, -0.12], [3, -0.12], [5.5, -0.12], [8, -0.12], [10.5, -0.12], [13, -0.12], [15.5, -0.12], [18, -0.12], [23.3, -0.11], [30.4, -0.12],
  [1.7, -0.135], [4.2, -0.135], [6.7, -0.135], [9.2, -0.135], [11.7, -0.135], [14.2, -0.135], [16.7, -0.135], [19, -0.135], [26.5, -0.135],
  [1.5, -0.15], [4, -0.15], [6.5, -0.15], [9, -0.15], [11.5, -0.15], [14, -0.15], [16.5, -0.15], [20.9, -0.14], [28.1, -0.17], [37.2, -0.14],
  [0.3, -0.165], [2.7, -0.165], [5.2, -0.165], [7.7, -0.165], [10.2, -0.165], [12.7, -0.165], [15, -0.165], [22.5, -0.165],
  [0.5, -0.18], [3, -0.18], [5.5, -0.18], [8, -0.18], [10.5, -0.18], [13, -0.18], [15.5, -0.18], [24.5, -0.17],
  [1.7, -0.195], [4.2, -0.195], [6.7, -0.195], [9.2, -0.195], [11.7, -0.195], [14.2, -0.195], [17, -0.195], [20, -0.195],
  [1.5, -0.21], [4, -0.21], [6.5, -0.21], [9, -0.21], [11.5, -0.21], [14, -0.21], [18, -0.21], [21.6, -0.19], [25.6, -0.2],
  [0.3, -0.225], [2.7, -0.225], [5.2, -0.225], [7.7, -0.225], [10.2, -0.225], [12.7, -0.225], [15.5, -0.225],
  [0.5, -0.24], [3, -0.24], [5.5, -0.24], [8, -0.24], [10.5, -0.24], [12.5, -0.24], [18.6, -0.23], [28.1, -0.23],
  [1.7, -0.255], [4.2, -0.255], [6.7, -0.255], [9.2, -0.255], [11.5, -0.255],
  [1.5, -0.27], [4, -0.27], [6.5, -0.27], [9, -0.27], [13.4, -0.27], [17.5, -0.26], [22.7, -0.27], [26.9, -0.26], [29.9, -0.27],
  [0.5, -0.285], [3, -0.285], [5.5, -0.285], [8, -0.285], [10.5, -0.285],
  [2.1, -0.3], [5, -0.3], [7.5, -0.3], [10, -0.3], [15.1, -0.3], [20.4, -0.3],
  [1.7, -0.315], [4.2, -0.315], [6.7, -0.315], [9.2, -0.315],
  [1.5, -0.34], [3.5, -0.33], [6, -0.33], [8.5, -0.33], [11.7, -0.33], [16.9, -0.33],
  [2.5, -0.36], [5, -0.36], [6.3, -0.36], [9.9, -0.35], [19.2, -0.34], [22.2, -0.34],
  [3.6, -0.38], [2.7, -0.39], [8, -0.37], [16.3, -0.38],
  [4.1, -0.96], [5.1, -0.8], [6, -0.66], [7.1, -0.61], [8.3, -0.58], [2.8, -0.52], [4.1, -0.55],
  [3.9, -0.45], [5.1, -0.46], [6.3, -0.47], [8, -0.46], [10.4, -0.46], [9.2, -0.42], [13.9, -0.41], [15.1, -0.42],
  [24.5, -0.06], [0.9, -0.05],
];

const panels = [
  { title: "(a) AMMA-Tondikiboro", points: tondikiboro, yTicks: [-1.5, -1, -0.5, 0] },
  { title: "(b) AMMA-Wankama", points: wankama, yTicks: [-0.8, -0.6, -0.4, -0.2, 0] },
  { title: "(c) AMMA-Belenfougo", points: belenfougo, yTicks: [-3, -2.5, -2, -1.5, -1, -0.5, 0] },
  { title: "(d) SCAN-Enterprise", points: enterprise, yTicks: [-2, -1.5, -1, -0.5, 0] },
  { title: "(e) SCAN-MammothCave", points: mammothCave, yTicks: [-10, -8, -6, -4, -2, 0] },
  { title: "(f) SCAN-Princetion#1", points: princetion, yTicks: [-3, -2.5, -2, -1.5, -1, -0.5, 0] },
  { title: "(g) SCAN-CrossRoads", points: crossRoads, yTicks: [-2, -1.5, -1, -0.5, 0] },
  { title: "(h) SCAN-WidowWells", points: widowWells, yTicks: [-1, -0.8, -0.6, -0.4, -0.2, 0] },
];

const FONT = '"Liberation Sans", Arial, sans-serif';
const W = 300;
const H = 305;
const CW = 312; // a little wider than the cell so the "80" label is not clipped
const PLOT_L = 66;
const PLOT_T = 38;
const PLOT_W = 227;
const PLOT_H = 222;

const BottomTick = (p: any) => (
  <g>
    <line x1={p.x} y1={p.y} x2={p.x} y2={p.y - 3} stroke="#000" />
    <text x={p.x} y={p.y + 20} textAnchor="middle" fontSize={16} fontFamily={FONT} fill="#000">
      {p.payload.value}
    </text>
  </g>
);

const LeftTick = (p: any) => (
  <g>
    <line x1={p.x} y1={p.y} x2={p.x + 3} y2={p.y} stroke="#000" />
    <text x={p.x - 4} y={p.y + 6} textAnchor="end" fontSize={16} fontFamily={FONT} fill="#000">
      {String(p.payload.value)}
    </text>
  </g>
);

const TopTick = (p: any) => <line x1={p.x} y1={p.y} x2={p.x} y2={p.y + 3} stroke="#000" />;
const RightTick = (p: any) => <line x1={p.x} y1={p.y} x2={p.x - 3} y2={p.y} stroke="#000" />;

const Ring = (p: any) => (
  <circle cx={p.cx} cy={p.cy} r={4.2} fill="none" stroke="#0000ff" strokeWidth={1.4} />
);

const Panel = ({ title, points, yTicks, left, top }: any) => {
  const data = points.map(([x, y]: Pt) => ({ x, y }));
  const yDomain = [yTicks[0], 0];
  return (
    <div style={{ position: "absolute", left, top, width: W, height: H }}>
      <ScatterChart width={CW} height={H} margin={{ top: PLOT_T - 1, right: CW - PLOT_L - PLOT_W - 1, bottom: 0, left: 0 }}>
        <XAxis type="number" dataKey="x" domain={[0, 80]} ticks={dayTicks} interval={0} height={H - PLOT_T - PLOT_H}
          axisLine={{ stroke: "#000" }} tickLine={false} tickSize={0} tickMargin={0} tick={BottomTick} />
        <YAxis type="number" dataKey="y" domain={yDomain} ticks={yTicks} interval={0} width={PLOT_L}
          axisLine={{ stroke: "#000" }} tickLine={false} tickSize={0} tickMargin={0} tick={LeftTick} />
        <XAxis xAxisId="top" orientation="top" type="number" dataKey="x" domain={[0, 80]} ticks={dayTicks} interval={0} height={1}
          axisLine={{ stroke: "#000" }} tickLine={false} tickSize={0} tickMargin={0} tick={TopTick} />
        <YAxis yAxisId="right" orientation="right" type="number" dataKey="y" domain={yDomain} ticks={yTicks} interval={0} width={1}
          axisLine={{ stroke: "#000" }} tickLine={false} tickSize={0} tickMargin={0} tick={RightTick} />
        <ReferenceArea x1={0} x2={80} y1={yDomain[0]} y2={0} fill="none" stroke="#000" strokeWidth={1} ifOverflow="visible" />
        <Scatter data={[]} xAxisId="top" yAxisId="right" isAnimationActive={false} />
        <Scatter data={data} shape={Ring} isAnimationActive={false} />
      </ScatterChart>
      <div style={{ position: "absolute", left: PLOT_L - 40, width: PLOT_W + 80, top: 9, textAlign: "center",
        fontSize: 18.5, fontWeight: "bold", lineHeight: "22px", whiteSpace: "nowrap" }}>{title}</div>
      <div style={{ position: "absolute", left: PLOT_L - 60, width: PLOT_W + 120, top: PLOT_T + PLOT_H + 21, textAlign: "center",
        fontSize: 16.5, lineHeight: "20px", whiteSpace: "nowrap" }}>Days since last perecipitation (day)</div>
      <div style={{ position: "absolute", left: 17, top: PLOT_T + PLOT_H / 2, fontSize: 16.5, lineHeight: "20px",
        whiteSpace: "nowrap", transform: "translate(-50%, -50%) rotate(-90deg)" }}>Soil water losses (cm)</div>
    </div>
  );
};

export default function App() {
  return (
    <div style={{ position: "absolute", left: 0, top: 0, width: 1215, height: 611, background: "#fff", fontFamily: FONT, color: "#000", overflow: "hidden" }}>
      {panels.map((p, i) => (
        <Panel key={p.title} {...p} left={(i % 4) * W} top={Math.floor(i / 4) * H} />
      ))}
    </div>
  );
}
